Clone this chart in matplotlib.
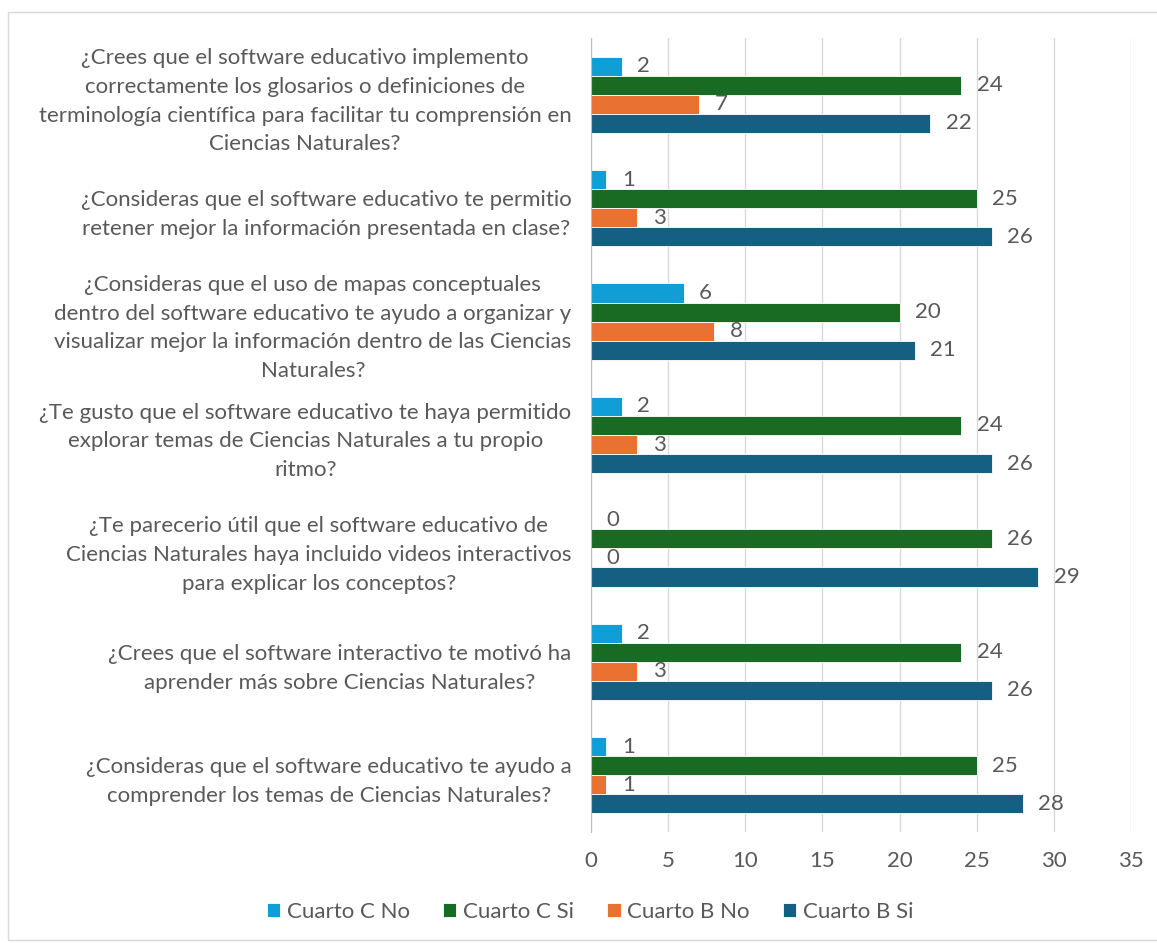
import matplotlib.pyplot as plt
import numpy as np
from matplotlib.patches import Rectangle

categories = [
    "¿Crees que el software educativo implemento\ncorrectamente los glosarios o definiciones de\nterminología científica para facilitar tu comprensión en\nCiencias Naturales?",
    "¿Consideras que el software educativo te permitio\nretener mejor la información presentada en clase?",
    "¿Consideras que el uso de mapas conceptuales\ndentro del software educativo te ayudo a organizar y\nvisualizar mejor la información dentro de las Ciencias\nNaturales?",
    "¿Te gusto que el software educativo te haya permitido\nexplorar temas de Ciencias Naturales a tu propio\nritmo?",
    "¿Te parecerio útil que el software educativo de\nCiencias Naturales haya incluido videos interactivos\npara explicar los conceptos?",
    "¿Crees que el software interactivo te motivó ha\naprender más sobre Ciencias Naturales?",
    "¿Consideras que el software educativo te ayudo a\ncomprender los temas de Ciencias Naturales?",
]
series_names = ["Cuarto C No", "Cuarto C Si", "Cuarto B No", "Cuarto B Si"]
cuarto_c_no = [2, 1, 6, 2, 0, 2, 1]
cuarto_c_si = [24, 25, 20, 24, 26, 24, 25]
cuarto_b_no = [7, 3, 8, 3, 0, 3, 1]
cuarto_b_si = [22, 26, 21, 26, 29, 26, 28]
x_ticks = [0, 5, 10, 15, 20, 25, 30, 35]

colors = ["#0F9ED5", "#196B24", "#E97132", "#156082"]
series = [cuarto_c_no, cuarto_c_si, cuarto_b_no, cuarto_b_si]

plt.rcParams['font.family'] = ['Lato', 'DejaVu Sans']
text_color = "#595959"
fs = 16

fig = plt.figure(figsize=(11.57, 9.43), dpi=100)
fig.patches.append(Rectangle((8/1157, 1-940/943), 1150/1157, (940-12)/943,
                             transform=fig.transFigure, fill=False,
                             edgecolor="#D9D9D9", linewidth=1))
ax = fig.add_axes([591/1157, 1-832/943, (1131-591)/1157, (832-38)/943])

n = len(categories)
y = np.arange(n)
bh = 0.168
offsets = [-1.5, -0.5, 0.5, 1.5]
for s, (vals, col, name) in enumerate(zip(series, colors, series_names)):
    pos = y + offsets[s] * bh
    ax.barh(pos, vals, height=bh, color=col, label=name,
            edgecolor="white", linewidth=0.6)
    for p, v in zip(pos, vals):
        ax.annotate(str(v), (v, p), xytext=(11, 0), textcoords="offset points",
                    ha="left", va="center", fontsize=fs, color=text_color)

ax.set_ylim(n - 0.5, -0.5)
ax.set_xlim(0, 35)
ax.set_xticks(x_ticks)
ax.set_yticks(y)
ax.set_yticklabels(categories, fontsize=fs, color=text_color,
                   multialignment="center", linespacing=1.55)
ax.tick_params(axis="y", length=0, pad=14)
ax.tick_params(axis="x", length=0, pad=14, labelsize=fs, labelcolor=text_color)
ax.grid(axis="x", color="#D9D9D9", linewidth=1)
ax.set_axisbelow(True)
for sp in ["top", "right", "bottom"]:
    ax.spines[sp].set_visible(False)
ax.spines["left"].set_color("#BFBFBF")

leg = fig.legend(loc="center", bbox_to_anchor=(0.51, 1-912/943), ncol=4,
                 frameon=False, fontsize=fs, handlelength=0.6, handleheight=0.6,
                 columnspacing=1.5, handletextpad=0.3)
for t in leg.get_texts():
    t.set_color(text_color)

fig.savefig("out.png", dpi=100)
